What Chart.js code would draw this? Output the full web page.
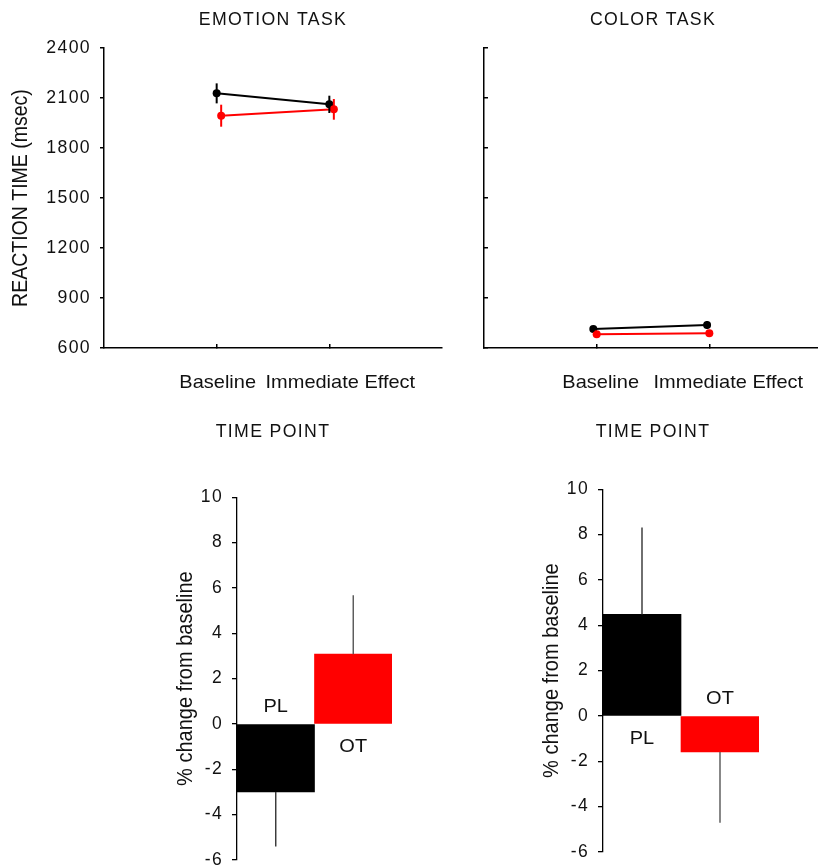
<!DOCTYPE html>
<html>
<head>
<meta charset="utf-8">
<script src="https://cdn.jsdelivr.net/npm/chart.js@4.4.1/dist/chart.umd.min.js"></script>
<style>
    html, body { margin: 0; padding: 0; background: #fff; overflow: hidden; width: 818px; height: 865px; position: relative; }
    canvas { position: absolute; }
</style>
</head>
<body>
<canvas id="emo" width="446" height="450" style="left:0px;top:0px"></canvas>
<canvas id="col" width="446" height="450" style="left:380px;top:0px"></canvas>
<canvas id="emoBar" width="272" height="430" style="left:120px;top:450px"></canvas>
<canvas id="colBar" width="273" height="430" style="left:486px;top:442px"></canvas>
<script>
// time points on the x axis
const timePoints = ['Baseline', 'Immediate Effect'];
const rtTicks = [600, 900, 1200, 1500, 1800, 2100, 2400];

// reaction time (msec): black = PL, red = OT
const emoPL = [2128, 2062];
const emoPLErr = [60, 52];
const emoPLx = [1, 2];
const emoOT = [1994, 2032];
const emoOTErr = [66, 62];
const emoOTx = [1.04, 2.04];

const colPL = [714, 738];
const colPLErr = [17, 24];
const colPLx = [0.97, 1.98];
const colOT = [682, 688];
const colOTErr = [10, 10];
const colOTx = [1, 2];

// % change from baseline
const groups = ['PL', 'OT'];
const pctTicks = [-6, -4, -2, 0, 2, 4, 6, 8, 10];
const emoChange = [-3.0, 3.08];
const emoChangeErr = [2.4, 2.6];
const colChange = [4.48, -1.59];
const colChangeErr = [3.83, 3.12];

const FONT = "'Liberation Sans', Arial, sans-serif";
Chart.defaults.font.family = FONT;
Chart.defaults.color = '#111';
Chart.defaults.animation = false;

const BLACK = '#000000';
const RED = '#ff0000';
const STRETCH = 1.13; // the original text is a little wide

// widen the text chart.js draws itself
const wideText = {
    id: 'wideText',
    beforeDraw(chart) {
        chart.ctx.letterSpacing = '1.35px';
    }
};

// text we draw ourselves, stretched sideways like the original
function wideFill(ctx, text, x, y, size, rotate) {
    ctx.save();
    ctx.letterSpacing = '0px';
    ctx.font = size + 'px ' + FONT;
    ctx.fillStyle = '#111';
    ctx.textAlign = 'center';
    ctx.textBaseline = 'middle';
    ctx.translate(x, y);
    ctx.scale(STRETCH, 1);
    if (rotate) ctx.rotate(-Math.PI / 2);
    ctx.fillText(text, 0, 0);
    ctx.restore();
}

// vertical error lines, both sides for the line charts, outward only for bars
const errorBars = {
    id: 'errorBars',
    afterDatasetsDraw(chart) {
        const { ctx } = chart;
        const y = chart.scales.y;
        chart.data.datasets.forEach((ds, i) => {
            if (!ds.errors) return;
            const meta = chart.getDatasetMeta(i);
            ctx.save();
            ctx.lineWidth = ds.errWidth || 2;
            meta.data.forEach((el, j) => {
                const raw = ds.data[j];
                const v = (typeof raw === 'object') ? raw.y : raw;
                const e = ds.errors[j];
                let y0, y1;
                if (ds.oneSided) {
                    y0 = y.getPixelForValue(v);
                    y1 = y.getPixelForValue(v + Math.sign(v) * e);
                } else {
                    y0 = y.getPixelForValue(v - e);
                    y1 = y.getPixelForValue(v + e);
                }
                ctx.strokeStyle = Array.isArray(ds.errColor) ? ds.errColor[j] : (ds.errColor || ds.borderColor);
                ctx.beginPath();
                ctx.moveTo(el.x, y0);
                ctx.lineTo(el.x, y1);
                ctx.stroke();
            });
            ctx.restore();
        });
    }
};

// rotated y title, at a fixed distance from the canvas edge
function yTitle(text, x, size) {
    return {
        id: 'yTitle',
        afterDraw(chart) {
            if (!text) return;
            const { chartArea } = chart;
            wideFill(chart.ctx, text, x, (chartArea.top + chartArea.bottom) / 2, size, true);
        }
    };
}

// category names under the x axis (drawn by hand so they can sit a bit off the tick)
function timeLabels(shift) {
    return {
        id: 'timeLabels',
        afterDraw(chart) {
            const x = chart.scales.x;
            timePoints.forEach((t, i) => {
                wideFill(chart.ctx, t, x.getPixelForValue(i + 1) + shift[i], chart.chartArea.bottom + 35, 17.7, false);
            });
        }
    };
}

// PL / OT written on the other side of the zero line
const barNames = {
    id: 'barNames',
    afterDatasetsDraw(chart) {
        const y = chart.scales.y;
        const zero = y.getPixelForValue(0);
        const ds = chart.data.datasets[0];
        chart.getDatasetMeta(0).data.forEach((bar, j) => {
            wideFill(chart.ctx, chart.data.labels[j], bar.x, zero + (ds.data[j] < 0 ? -17 : 23), 17.7, false);
        });
    }
};

function pts(xs, ys) {
    return ys.map((v, i) => ({ x: xs[i], y: v }));
}

function rtChart(id, title, pl, plErr, plX, ot, otErr, otX, showY, yTick, shift) {
    new Chart(document.getElementById(id), {
        type: 'scatter',
        data: {
            datasets: [
                {
                    label: 'OT', data: pts(otX, ot), errors: otErr,
                    showLine: true, borderColor: RED, backgroundColor: RED,
                    borderWidth: 2, pointRadius: 4, pointBorderWidth: 0
                },
                {
                    label: 'PL', data: pts(plX, pl), errors: plErr,
                    showLine: true, borderColor: BLACK, backgroundColor: BLACK,
                    borderWidth: 2, pointRadius: 4, pointBorderWidth: 0
                }
            ]
        },
        options: {
            responsive: false,
            devicePixelRatio: 1,
            layout: { padding: 0 },
            plugins: {
                legend: { display: false },
                tooltip: { enabled: false },
                title: {
                    display: true, text: title, fullSize: false, color: '#111',
                    font: { size: 17.7, weight: 'normal' },
                    padding: { top: 9.4, bottom: 17.4 }
                }
            },
            scales: {
                x: {
                    type: 'linear', min: 0, max: 3,
                    afterBuildTicks: s => { s.ticks = [{ value: 1 }, { value: 2 }]; },
                    ticks: { display: false },
                    grid: { display: true, drawOnChartArea: false, drawTicks: true, tickLength: -4, color: '#000', lineWidth: 1.5 },
                    border: { display: true, color: '#000', width: 1.5 },
                    title: {
                        display: true, text: 'TIME POINT', color: '#111',
                        font: { size: 17.7 }, padding: { top: 0, bottom: 7.4 }
                    },
                    afterFit: s => { s.height = 102; }
                },
                y: {
                    min: 600, max: 2400,
                    afterBuildTicks: s => { s.ticks = rtTicks.map(v => ({ value: v })); },
                    ticks: { display: showY, font: { size: 17.7 }, color: '#111', padding: 9, callback: v => String(v) },
                    grid: { display: true, drawOnChartArea: false, drawTicks: true, tickLength: yTick, color: '#000', lineWidth: 1.5 },
                    border: { display: true, color: '#000', width: 1.5 },
                    title: { display: false },
                    afterFit: s => { s.width = 104; }
                }
            }
        },
        plugins: [wideText, errorBars, timeLabels(shift), yTitle(showY ? 'REACTION TIME (msec)' : '', 21, 19.5)]
    });
}

function changeChart(id, values, errs) {
    new Chart(document.getElementById(id), {
        type: 'bar',
        data: {
            labels: groups,
            datasets: [{
                data: values,
                errors: errs,
                oneSided: true,
                errColor: ['#333', '#555'],
                errWidth: 1.4,
                backgroundColor: [BLACK, RED],
                borderWidth: 0,
                barPercentage: 1,
                categoryPercentage: 1
            }]
        },
        options: {
            responsive: false,
            devicePixelRatio: 1,
            layout: { padding: { top: 47.3, bottom: 20, left: 0, right: 0 } },
            plugins: {
                legend: { display: false },
                tooltip: { enabled: false },
                title: { display: false }
            },
            scales: {
                x: { display: false },
                y: {
                    min: -6, max: 10,
                    afterBuildTicks: s => { s.ticks = pctTicks.map(v => ({ value: v })); },
                    ticks: { font: { size: 17.5 }, color: '#111', padding: 9, callback: v => String(v) },
                    grid: { display: true, drawOnChartArea: false, drawTicks: true, tickLength: 5, color: '#000', lineWidth: 1.3 },
                    border: { display: true, color: '#000', width: 1.3 },
                    title: { display: false },
                    afterFit: s => { s.width = 117; }
                }
            }
        },
        plugins: [wideText, errorBars, barNames, yTitle('% change from baseline', 65.5, 20)]
    });
}

rtChart('emo', 'EMOTION TASK', emoPL, emoPLErr, emoPLx, emoOT, emoOTErr, emoOTx, true, 4, [1, 11]);
rtChart('col', 'COLOR TASK', colPL, colPLErr, colPLx, colOT, colOTErr, colOTx, false, -4, [4, 19]);
changeChart('emoBar', emoChange, emoChangeErr);
changeChart('colBar', colChange, colChangeErr);
</script>
</body>
</html>
